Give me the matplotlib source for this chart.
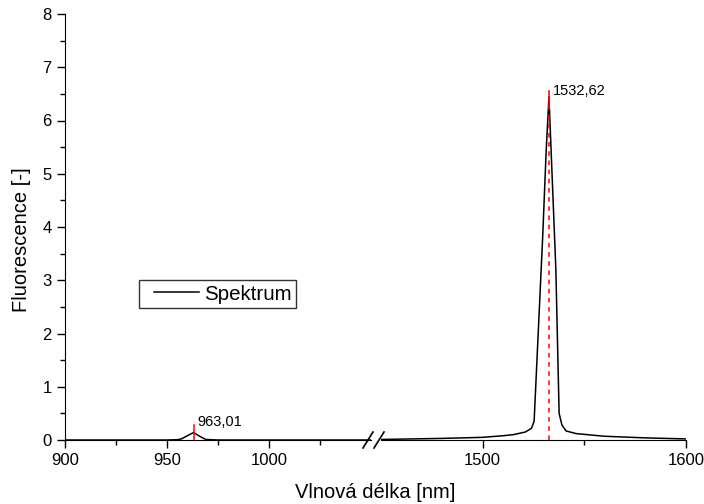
import matplotlib
matplotlib.use("Agg")
import matplotlib.pyplot as plt
from matplotlib.lines import Line2D
from matplotlib.legend_handler import HandlerLine2D

plt.rcParams['font.family'] = ['Liberation Sans', 'DejaVu Sans']

# ---- data ----
wl_left = [900, 930, 950, 955, 957, 960, 963, 966, 969, 975, 1000, 1050]
fl_left = [0.0, 0.0, 0.0, 0.005, 0.02, 0.08, 0.14, 0.07, 0.01, 0.0, 0.0, 0.0]

wl_right = [1450, 1480, 1500, 1510, 1515, 1521, 1524, 1525.3, 1529.5, 1531.2, 1532.6,
            1536.0, 1537.6, 1539, 1541, 1546, 1560, 1580, 1600]
fl_right = [0.01, 0.03, 0.05, 0.08, 0.10, 0.15, 0.22, 0.35, 3.8, 5.4, 6.45,
            3.2, 0.5, 0.28, 0.17, 0.12, 0.07, 0.04, 0.02]

peak_pos = [963.01, 1532.62]
peak_labels = ["963,01", "1532,62"]
peak_marker_top = [0.28, 6.55]

series_name = "Spektrum"
yticks = [0, 1, 2, 3, 4, 5, 6, 7, 8]
xticks_left = [900, 950, 1000]
xticks_right = [1500, 1600]

W, H = 704, 504
fig = plt.figure(figsize=(W / 100, H / 100), dpi=100)

def fx(px):
    return px / W

def fy(py):
    return 1 - py / H

bottom = fy(440)
height = fy(14) - bottom
axL = fig.add_axes([fx(65), bottom, fx(371) - fx(65), height])
axR = fig.add_axes([fx(381), bottom, fx(686) - fx(381), height])

for ax in (axL, axR):
    ax.set_ylim(0, 8)
    ax.spines['top'].set_visible(False)
    ax.spines['right'].set_visible(False)
    ax.tick_params(axis='both', which='major', direction='out', length=6,
                   width=1, labelsize=12, color='black')
    ax.tick_params(axis='both', which='minor', direction='out', length=3.5,
                   width=1, color='black')

axL.set_xlim(900, 1050)
axR.set_xlim(1450, 1600)
axR.spines['left'].set_visible(False)
axR.tick_params(axis='y', which='both', left=False, labelleft=False)

axL.set_yticks(yticks)
axL.set_yticks([y + 0.5 for y in yticks[:-1]], minor=True)
axL.set_xticks(xticks_left)
axL.set_xticks([925, 975, 1025], minor=True)
axR.set_xticks(xticks_right)
axR.set_xticks([1550], minor=True)

line, = axL.plot(wl_left, fl_left, color='black', lw=1.1)
axR.plot(wl_right, fl_right, color='black', lw=1.1)

# peak markers
axL.plot([peak_pos[0], peak_pos[0]], [0, peak_marker_top[0]], color='red', lw=1.1)
axL.annotate(peak_labels[0], (peak_pos[0], peak_marker_top[0]),
             xytext=(3, 2), textcoords='offset points', fontsize=10.5,
             ha='left', va='center')
axR.plot([peak_pos[1], peak_pos[1]], [0, peak_marker_top[1]], color='red',
         lw=1.1, ls=(0, (3, 3)))
axR.plot([peak_pos[1], peak_pos[1]], [peak_marker_top[1] - 0.3, peak_marker_top[1]],
         color='red', lw=1.1)
axR.annotate(peak_labels[1], (peak_pos[1], peak_marker_top[1]),
             xytext=(3, 0.5), textcoords='offset points', fontsize=10.5,
             ha='left', va='center')

# break marks
for x0 in (363, 374):
    fig.add_artist(Line2D([fx(x0), fx(x0 + 10)], [fy(448), fy(432)],
                          transform=fig.transFigure, color='black', lw=1.2))

# labels
fig.text(fx(375), fy(493), "Vlnová délka [nm]", ha='center', va='center', fontsize=14.5)
fig.text(fx(22), fy(240), "Fluorescence [-]", ha='center', va='center',
         rotation=90, fontsize=14.5)

leg = axL.legend([line], [series_name], loc='upper left',
                 bbox_to_anchor=(fx(139), fy(280)), bbox_transform=fig.transFigure,
                 fontsize=14.8, frameon=True, fancybox=False, handlelength=2.70,
                 borderpad=0.22, borderaxespad=0, handletextpad=0.25,
                 handler_map={line: HandlerLine2D(xpad=0.51)})
leg.get_frame().set_edgecolor('black')
leg.get_frame().set_linewidth(1.0)

fig.savefig("out.png", dpi=100)
